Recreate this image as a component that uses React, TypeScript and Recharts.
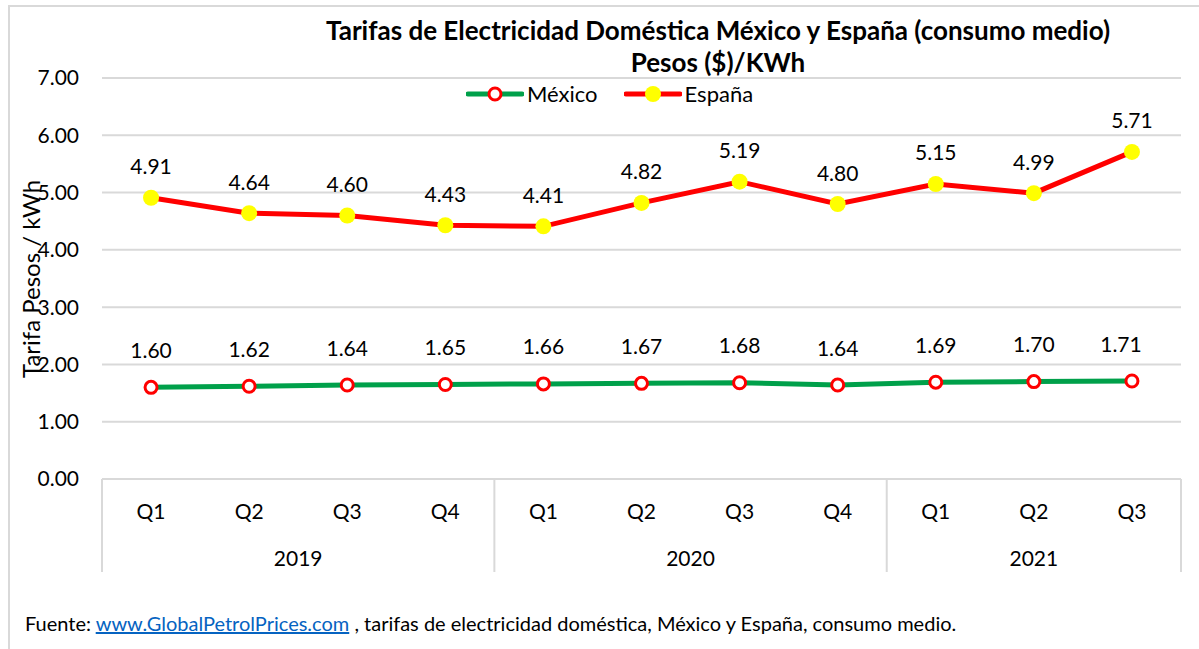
import React from "react";
import {
  LineChart,
  Line,
  XAxis,
  YAxis,
  CartesianGrid,
  Legend,
  LabelList,
} from "recharts";

const quarters = ["Q1", "Q2", "Q3", "Q4", "Q1", "Q2", "Q3", "Q4", "Q1", "Q2", "Q3"];
const years = ["2019", "2019", "2019", "2019", "2020", "2020", "2020", "2020", "2021", "2021", "2021"];
const mexico = [1.6, 1.62, 1.64, 1.65, 1.66, 1.67, 1.68, 1.64, 1.69, 1.7, 1.71];
const espana = [4.91, 4.64, 4.6, 4.43, 4.41, 4.82, 5.19, 4.8, 5.15, 4.99, 5.71];
const yTicks = [0, 1, 2, 3, 4, 5, 6, 7];

const FONT = "Lato, 'Noto Sans', sans-serif";
const GRID = "#d9d9d9";
const GREEN = "#00a04a";
const RED = "#ff0000";
const YELLOW = "#ffff00";

const W = 1199;
const H = 649;
const MARGIN = { top: 78, right: 18, left: 42, bottom: 70 };
const Y_WIDTH = 60;
const X_HEIGHT = 100;

const data = quarters.map((q, i) => ({
  key: `${years[i]}-${q}`,
  quarter: q,
  year: years[i],
  mexico: mexico[i],
  espana: espana[i],
}));

// two-level category axis: quarter row + year row with separators
const CategoryTick = (props: any) => {
  const { x, y, payload } = props;
  const i = props.index ?? payload.index ?? 0;
  const plotW = W - MARGIN.left - Y_WIDTH - MARGIN.right;
  const half = payload.offset ? payload.offset : plotW / data.length / 2;
  const isYearStart = i === 0 || years[i] !== years[i - 1];
  const isLast = i === data.length - 1;
  let groupSize = 0;
  if (isYearStart) {
    for (let k = i; k < years.length && years[k] === years[i]; k++) groupSize++;
  }
  return (
    <g>
      <text
        x={x}
        y={y + 31}
        textAnchor="middle"
        dominantBaseline="central"
        fontSize={21}
        fontFamily={FONT}
        fill="#000"
      >
        {quarters[i]}
      </text>
      {isYearStart && (
        <>
          <line x1={x - half} x2={x - half} y1={y} y2={y + 93} stroke={GRID} strokeWidth={2} />
          <text
            x={x + (groupSize - 1) * half}
            y={y + 78}
            textAnchor="middle"
            dominantBaseline="central"
            fontSize={21}
            fontFamily={FONT}
            fill="#000"
          >
            {years[i]}
          </text>
        </>
      )}
      {isLast && (
        <line x1={x + half} x2={x + half} y1={y} y2={y + 93} stroke={GRID} strokeWidth={2} />
      )}
    </g>
  );
};

const makeLabel = (dy: number, lastDx: number) => (p: any) => {
  const x = p.x ?? p.viewBox?.x;
  const y = p.y ?? p.viewBox?.y;
  const dx = p.index === data.length - 1 ? lastDx : 0;
  return (
    <text
      x={x + dx}
      y={y - dy}
      textAnchor="middle"
      dominantBaseline="central"
      fontSize={21}
      fontFamily={FONT}
      fill="#000"
    >
      {Number(p.value).toFixed(2)}
    </text>
  );
};

const LegendContent = () => (
  <div style={{ display: "flex", alignItems: "center", fontFamily: FONT, fontSize: 22 }}>
    <svg width={58} height={20}>
      <line x1={2} x2={56} y1={10} y2={10} stroke={GREEN} strokeWidth={5} strokeLinecap="round" />
      <circle cx={29} cy={10} r={6} fill="#fff" stroke={RED} strokeWidth={3} />
    </svg>
    <span style={{ marginLeft: 3, marginRight: 26 }}>México</span>
    <svg width={58} height={20}>
      <line x1={2} x2={56} y1={10} y2={10} stroke={RED} strokeWidth={5} strokeLinecap="round" />
      <circle cx={29} cy={10} r={8} fill={YELLOW} />
    </svg>
    <span style={{ marginLeft: 3 }}>España</span>
  </div>
);

export default function App() {
  return (
    <div
      style={{
        position: "absolute",
        left: 0,
        top: 0,
        width: W,
        height: H,
        background: "#fff",
        overflow: "hidden",
        fontFamily: FONT,
      }}
    >
      <div
        style={{
          position: "absolute",
          left: 8,
          top: 5,
          width: W,
          height: H,
          borderLeft: `2px solid ${GRID}`,
          borderTop: `2px solid ${GRID}`,
        }}
      />
      <div
        style={{
          position: "absolute",
          left: 218,
          width: 1000,
          top: 14,
          textAlign: "center",
          fontWeight: 700,
          fontSize: 26,
          lineHeight: "32px",
          color: "#000",
        }}
      >
        Tarifas de Electricidad Doméstica México y España (consumo medio)
        <br />
        Pesos ($)/KWh
      </div>
      <div
        style={{
          position: "absolute",
          left: 30,
          top: 279,
          transform: "translate(-50%, -50%) rotate(-90deg)",
          whiteSpace: "nowrap",
          fontSize: 24,
          color: "#000",
        }}
      >
        Tarifa Pesos / kWh
      </div>
      <div style={{ position: "absolute", left: 0, top: 0 }}>
        <LineChart width={W} height={H} data={data} margin={MARGIN}>
          <CartesianGrid vertical={false} stroke={GRID} strokeWidth={2} />
          <XAxis
            dataKey="key"
            scale="band"
            height={X_HEIGHT}
            axisLine={{ stroke: GRID, strokeWidth: 2 }}
            tickLine={false}
            tickSize={0}
            tickMargin={0}
            interval={0}
            tick={<CategoryTick />}
          />
          <YAxis
            width={Y_WIDTH}
            domain={[0, 7]}
            ticks={yTicks}
            axisLine={false}
            tickLine={false}
            tickSize={0}
            tickMargin={23}
            tickFormatter={(v: number) => v.toFixed(2)}
            tick={{ fontSize: 21, fontFamily: FONT, fill: "#000" }}
          />
          <Legend
            verticalAlign="middle"
            layout="horizontal"
            content={<LegendContent />}
            wrapperStyle={{ top: 80, left: 466, width: 340 }}
          />
          <Line
            dataKey="mexico"
            name="México"
            stroke={GREEN}
            strokeWidth={5}
            dot={{ r: 6, fill: "#fff", stroke: RED, strokeWidth: 3 }}
            activeDot={false}
            isAnimationActive={false}
          >
            <LabelList dataKey="mexico" content={makeLabel(38, -11)} />
          </Line>
          <Line
            dataKey="espana"
            name="España"
            stroke={RED}
            strokeWidth={5}
            dot={{ r: 8, fill: YELLOW, stroke: YELLOW, strokeWidth: 0 }}
            activeDot={false}
            isAnimationActive={false}
          >
            <LabelList dataKey="espana" content={makeLabel(32, 0)} />
          </Line>
        </LineChart>
      </div>
      <div
        style={{
          position: "absolute",
          left: 25,
          top: 611,
          fontSize: 20,
          color: "#000",
          whiteSpace: "nowrap",
        }}
      >
        Fuente:{" "}
        <span style={{ color: "#0563c1", textDecoration: "underline" }}>
          www.GlobalPetrolPrices.com
        </span>{" "}
        , tarifas de electricidad doméstica, México y España, consumo medio.
      </div>
    </div>
  );
}
